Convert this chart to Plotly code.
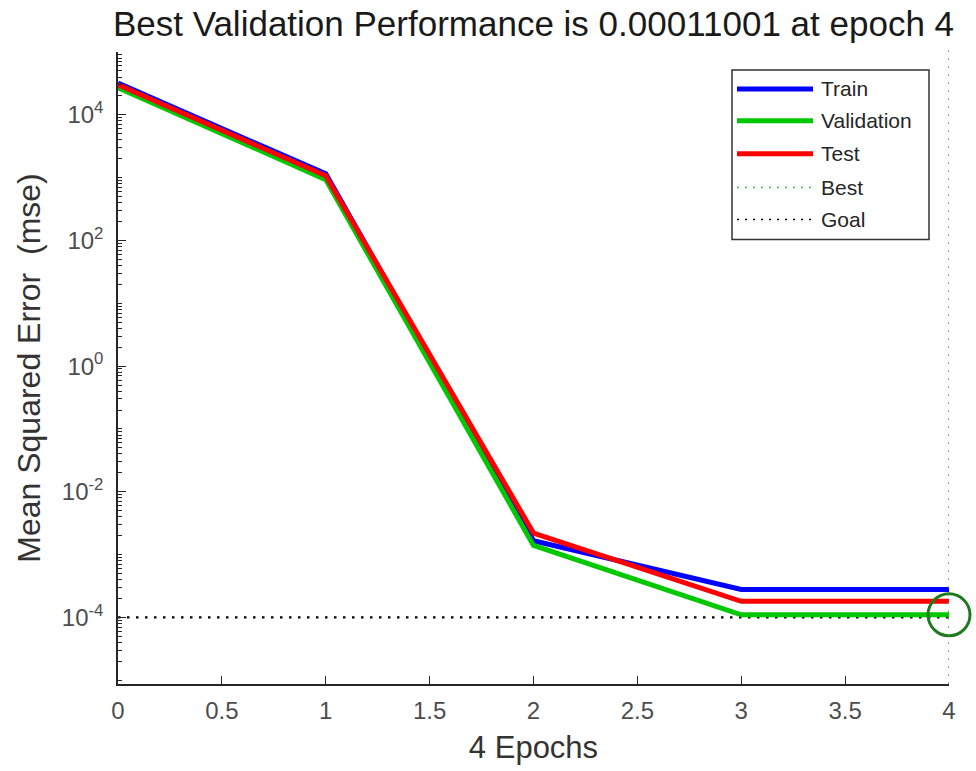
import plotly.graph_objects as go

# ---------------- data ----------------
epochs = [0, 1, 2, 3, 4]
train_mse = [3.2e4, 1150, 1.66e-3, 2.78e-4, 2.78e-4]
val_mse = [2.7e4, 930, 1.40e-3, 1.1001e-4, 1.1001e-4]
test_mse = [3.0e4, 1070, 2.2e-3, 1.80e-4, 1.80e-4]
best_epoch = 4
best_perf = 0.00011001
goal = 1e-4

series_names = ["Train", "Validation", "Test"]
series_values = [train_mse, val_mse, test_mse]
series_colors = ["#0000ff", "#00c800", "#ff0000"]
ref_names = ["Best", "Goal"]

x_ticks = [0, 0.5, 1, 1.5, 2, 2.5, 3, 3.5, 4]
x_ticktext = ["0", "0.5", "1", "1.5", "2", "2.5", "3", "3.5", "4"]
y_ticks = [1e-4, 1e-2, 1e0, 1e2, 1e4]
y_ticktext = ["10<sup>-4</sup>", "10<sup>-2</sup>", "10<sup>0</sup>", "10<sup>2</sup>", "10<sup>4</sup>"]

title_text = "Best Validation Performance is 0.00011001 at epoch 4"
xlabel = "4 Epochs"
ylabel = "Mean Squared Error  (mse)"

# ---------------- figure ----------------
W, H = 976, 771
ML, MR, MT, MB = 118, 27, 52, 85
FONT = "Liberation Sans, Arial, sans-serif"
AX = "#262626"

fig = go.Figure()

# goal line (black dotted)
fig.add_trace(go.Scatter(x=[epochs[0], epochs[-1]], y=[goal, goal], mode="lines",
                         line=dict(color="#000000", width=2.2, dash="2.5px,6.5px"),
                         showlegend=False, hoverinfo="skip"))

for name, vals, col in zip(series_names, series_values, series_colors):
    fig.add_trace(go.Scatter(x=epochs, y=vals, mode="lines", name=name,
                             line=dict(color=col, width=5), showlegend=False))

# best marker
fig.add_trace(go.Scatter(x=[best_epoch], y=[best_perf], mode="markers",
                         marker=dict(symbol="circle-open", size=42,
                                     line=dict(color="#1f7a1f", width=3), color="#1f7a1f"),
                         showlegend=False, cliponaxis=False, hoverinfo="skip"))

# best vertical line (green dotted)
fig.add_shape(type="line", xref="x", yref="paper", x0=best_epoch, x1=best_epoch,
              y0=0, y1=1.01, line=dict(color="#44bb44", width=1.6, dash="2px,6px"))

# ---------------- manual legend ----------------
pw = W - ML - MR
ph = H - MT - MB
def px(xp):
    return (xp - ML) / pw
def py(yp):
    return (H - MB - yp) / ph

fig.add_shape(type="rect", xref="paper", yref="paper",
              x0=px(732), x1=px(929), y0=py(240), y1=py(70),
              line=dict(color="#333333", width=1.5), fillcolor="white", layer="above")

leg_rows = [89, 121, 154, 188, 220]
leg_names = series_names + ref_names
leg_styles = [dict(color=c, width=5) for c in series_colors] + [
    dict(color="#44bb44", width=1.6, dash="2px,6px"),
    dict(color="#000000", width=1.6, dash="2px,6px"),
]
for yrow, nm, st in zip(leg_rows, leg_names, leg_styles):
    fig.add_shape(type="line", xref="paper", yref="paper",
                  x0=px(737), x1=px(813), y0=py(yrow), y1=py(yrow), line=st, layer="above")
    fig.add_annotation(xref="paper", yref="paper", x=px(819), y=py(yrow),
                       xanchor="left", yanchor="middle", text=nm, showarrow=False,
                       font=dict(family=FONT, size=21, color="#262626"))

fig.update_layout(
    width=W, height=H,
    margin=dict(l=ML, r=MR, t=MT, b=MB),
    paper_bgcolor="white", plot_bgcolor="white",
    showlegend=False,
    title=dict(text=title_text, x=(ML + (W - MR)) / 2 / W, xanchor="center",
               y=1 - 24 / H, yanchor="middle", yref="container",
               font=dict(family=FONT, size=35, color="#1a1a1a")),
    font=dict(family=FONT, color=AX),
)

fig.update_xaxes(range=[0, 4], tickvals=x_ticks, ticktext=x_ticktext,
                 ticks="inside", ticklen=8, tickwidth=1.3, tickcolor=AX,
                 showline=True, linecolor=AX, linewidth=1.5, mirror=False,
                 showgrid=False, zeroline=False, ticklabelstandoff=4,
                 tickfont=dict(family=FONT, size=24, color="#4d4d4d"),
                 title=dict(text=xlabel, font=dict(family=FONT, size=31, color="#333333"), standoff=14))

fig.update_yaxes(type="log", range=[-5.06, 5.0], tickvals=y_ticks, ticktext=y_ticktext,
                 ticks="inside", ticklen=8, tickwidth=1.3, tickcolor=AX,
                 minor=dict(ticks="inside", ticklen=4, tickwidth=1, tickcolor=AX, dtick="D1", showgrid=False),
                 showline=True, linecolor=AX, linewidth=1.5, mirror=False,
                 showgrid=False, zeroline=False, ticklabelstandoff=8,
                 tickfont=dict(family=FONT, size=24, color="#4d4d4d"),
                 title=dict(text=ylabel, font=dict(family=FONT, size=32, color="#333333"), standoff=12))

fig.write_html("out.html")
